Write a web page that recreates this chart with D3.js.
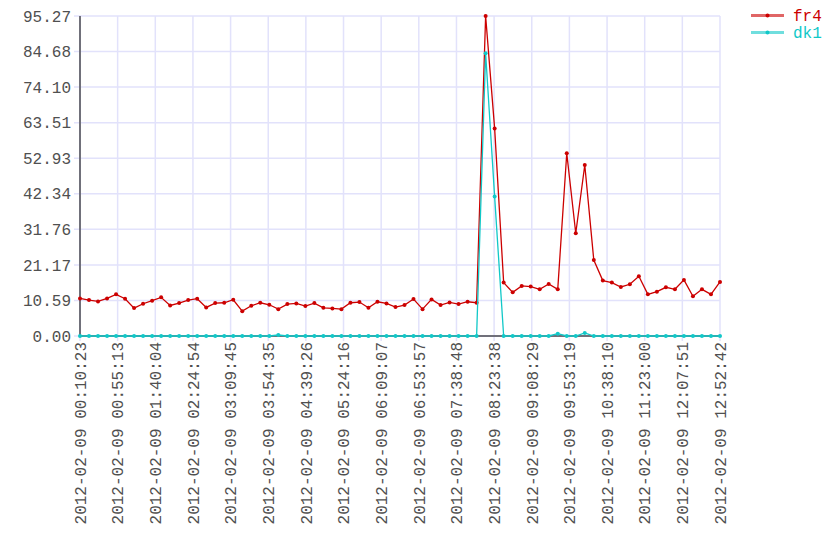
<!DOCTYPE html>
<html><head><meta charset="utf-8">
<script src="https://cdn.jsdelivr.net/npm/d3@7"></script>
<style>
body{margin:0;background:#fff}
svg text{font-family:"Liberation Mono","DejaVu Sans Mono",monospace}
</style>
</head><body>
<svg id="chart" width="840" height="560"></svg>
<script>
const DAY = "2012-02-09";
const sampleTimes = [
"00:10:23","00:21:07","00:31:51","00:42:36","00:53:20","01:04:04","01:14:48","01:25:32","01:36:17","01:47:01",
"01:57:45","02:08:29","02:19:13","02:29:58","02:40:42","02:51:26","03:02:10","03:12:54","03:23:39","03:34:23",
"03:45:07","03:55:51","04:06:35","04:17:20","04:28:04","04:38:48","04:49:32","05:00:16","05:11:01","05:21:45",
"05:32:29","05:43:13","05:53:57","06:04:42","06:15:26","06:26:10","06:36:54","06:47:38","06:58:23","07:09:07",
"07:19:51","07:30:35","07:41:19","07:52:04","08:02:48","08:13:32","08:24:16","08:35:00","08:45:45","08:56:29",
"09:07:13","09:17:57","09:28:41","09:39:26","09:50:10","10:00:54","10:11:38","10:22:22","10:33:07","10:43:51",
"10:54:35","11:05:19","11:16:03","11:26:48","11:37:32","11:48:16","11:59:00","12:09:44","12:20:29","12:31:13",
"12:41:57","12:52:42"];
const fr4 = [
11.2,10.7,10.3,11.2,12.4,11.1,8.3,9.6,10.5,11.5,
9.1,9.8,10.7,11.1,8.5,9.8,9.9,10.8,7.4,9.0,
9.9,9.3,8.0,9.5,9.7,8.9,9.8,8.4,8.2,8.0,
9.9,10.1,8.4,10.2,9.7,8.6,9.2,11.0,8.0,10.9,
9.2,10.0,9.5,10.2,9.9,95.27,61.8,15.9,13.0,14.9,
14.7,13.9,15.5,13.9,54.4,30.6,50.9,22.6,16.5,15.9,
14.6,15.4,17.8,12.4,13.2,14.5,13.9,16.7,11.8,13.9,
12.4,16.1];
const dk1 = [
0,0,0,0,0,0,0,0,0,0,
0,0,0,0,0,0,0,0,0,0,
0,0,0.3,0,0,0,0,0,0,0,
0,0,0,0,0,0,0,0,0,0,
0,0,0,0,0,84.2,41.5,0,0,0,
0,0,0,0.7,0,0,0.9,0,0,0,
0,0,0,0,0,0,0,0,0,0,
0,0];
const seriesNames = ["fr4","dk1"];
const seriesColors = ["#cc0000","#11c8c8"];
const yTickLabels = ["0.00","10.59","21.17","31.76","42.34","52.93","63.51","74.10","84.68","95.27"];
const xTickLabels = ["00:10:23","00:55:13","01:40:04","02:24:54","03:09:45","03:54:35","04:39:26","05:24:16","06:09:07",
"06:53:57","07:38:48","08:23:38","09:08:29","09:53:19","10:38:10","11:23:00","12:07:51","12:52:42"];

const parse = d3.timeParse("%Y-%m-%d %H:%M:%S");
const fmt = d3.timeFormat("%Y-%m-%d %H:%M:%S");
const times = sampleTimes.map(t => parse(DAY + " " + t));
const xTicks = xTickLabels.map(t => parse(DAY + " " + t));
const yTicks = yTickLabels.map(Number);

const L = 80, R = 720, T = 16, B = 336;
const FS = 16;
const labelColor = "#505050";
const svg = d3.select("#chart");
const x = d3.scaleTime().domain([xTicks[0], xTicks[xTicks.length-1]]).range([L, R]);
const y = d3.scaleLinear().domain([0, 95.27]).range([B, T]);

const gridColor = "#e2e2fb";
const grid = svg.append("g");
grid.selectAll("line.h").data(yTicks).join("line")
  .attr("x1", L - 6).attr("x2", R).attr("y1", d => y(d)).attr("y2", d => y(d))
  .attr("stroke", gridColor).attr("stroke-width", 1.5);
grid.selectAll("line.v").data(xTicks).join("line")
  .attr("x1", d => x(d)).attr("x2", d => x(d)).attr("y1", T).attr("y2", B + 5)
  .attr("stroke", gridColor).attr("stroke-width", 1.5);

// y axis labels
const yAxis = d3.axisLeft(y).tickValues(yTicks).tickFormat((d,i) => yTickLabels[i]).tickSize(0).tickPadding(9);
const gy = svg.append("g").attr("transform", `translate(${L},0)`).call(yAxis);
gy.select(".domain").remove();
gy.selectAll("text").attr("font-size", FS).attr("fill", labelColor).attr("font-family", "Liberation Mono");

// x axis labels
const xAxis = d3.axisBottom(x).tickValues(xTicks).tickFormat(d => fmt(d)).tickSize(0);
const gx = svg.append("g").attr("transform", `translate(0,${B})`).call(xAxis);
gx.select(".domain").remove();
gx.selectAll("text")
  .attr("font-size", FS).attr("fill", labelColor).attr("font-family", "Liberation Mono")
  .attr("text-anchor", "end")
  .attr("transform", "rotate(-90)")
  .attr("x", -6).attr("y", 0).attr("dy", "0.33em");

// axis lines
svg.append("line").attr("x1", L).attr("x2", L).attr("y1", T).attr("y2", B + 1)
  .attr("stroke", "#70707a").attr("stroke-width", 2);
svg.append("line").attr("x1", L).attr("x2", R).attr("y1", B).attr("y2", B)
  .attr("stroke", "#70707a").attr("stroke-width", 2);

const series = [fr4, dk1];
series.forEach((vals, si) => {
  const pts = vals.map((v, i) => [times[i], v]);
  const line = d3.line().x(d => x(d[0])).y(d => y(d[1]));
  svg.append("path").datum(pts).attr("d", line).attr("fill", "none")
    .attr("stroke", seriesColors[si]).attr("stroke-width", 1.3);
  svg.append("g").selectAll("circle").data(pts).join("circle")
    .attr("cx", d => x(d[0])).attr("cy", d => y(d[1])).attr("r", 2)
    .attr("fill", seriesColors[si]);
});

// legend
const lg = svg.append("g");
seriesNames.forEach((name, i) => {
  const ly = 15.5 + i * 17;
  lg.append("line").attr("x1", 751).attr("x2", 784).attr("y1", ly).attr("y2", ly)
    .attr("stroke", seriesColors[i]).attr("stroke-width", 3).attr("stroke-opacity", 0.6);
  lg.append("circle").attr("cx", 767.5).attr("cy", ly).attr("r", 2).attr("fill", seriesColors[i]);
  lg.append("text").attr("x", 793).attr("y", ly).attr("dy", "0.33em")
    .attr("font-size", FS).attr("fill", seriesColors[i]).text(name);
});
</script>
</body></html>
